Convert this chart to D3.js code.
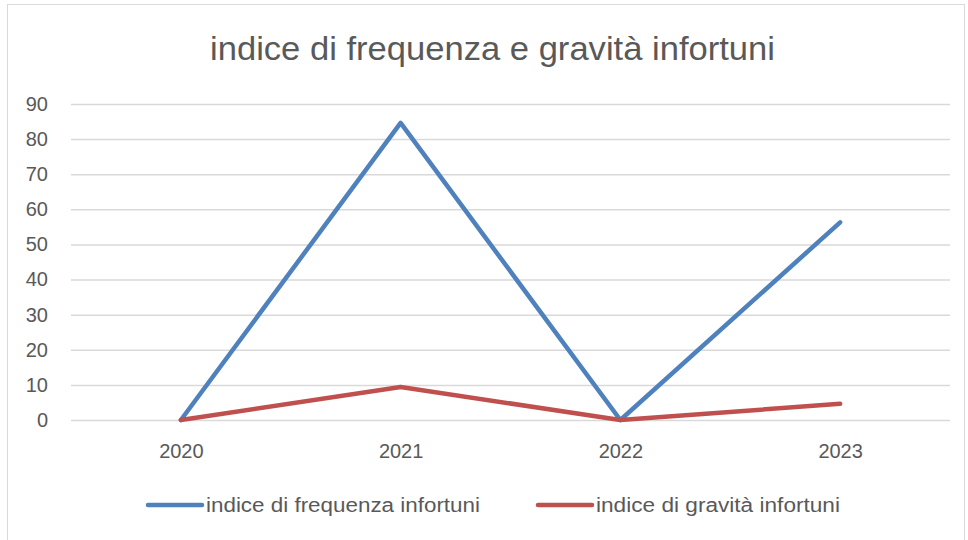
<!DOCTYPE html>
<html>
<head>
<meta charset="utf-8">
<script src="https://cdn.jsdelivr.net/npm/d3@7"></script>
<style>
  body { margin: 0; background: #fff; }
  svg text { font-family: "Liberation Sans", Arial, sans-serif; fill: #595959; }
</style>
</head>
<body>
<div id="chart"></div>
<script>
// data
var years = ['2020', '2021', '2022', '2023'];
var frequenza = [0, 84.6, 0, 56.3];
var gravita = [0, 9.4, 0, 4.6];
var yTicks = [0, 10, 20, 30, 40, 50, 60, 70, 80, 90];
var seriesNames = ['indice di frequenza infortuni', 'indice di gravità infortuni'];
var seriesColors = ['#4f81bd', '#c0504d'];
var title = 'indice di frequenza e gravità infortuni';

var width = 968, height = 540;
var margins = { top: 104, right: 18, bottom: 120, left: 71 };

var svg = d3.select('#chart').append('svg')
  .attr('width', width)
  .attr('height', height);

// chart frame
svg.append('rect')
  .attr('x', 7.5).attr('y', 4.5)
  .attr('width', width - 11).attr('height', height + 10)
  .attr('fill', 'none')
  .attr('stroke', '#d9d9d9');

var x = d3.scalePoint()
  .domain(years)
  .range([margins.left, width - margins.right])
  .padding(0.5);

var y = d3.scaleLinear()
  .domain([0, 90])
  .range([height - margins.bottom, margins.top]);

// title, stretched a bit to match the Calibri width
svg.append('text')
  .attr('x', 210).attr('y', 60)
  .attr('textLength', 565)
  .attr('lengthAdjust', 'spacingAndGlyphs')
  .style('font-size', '33px')
  .text(title);

// y axis + gridlines
var yAxis = svg.append('g')
  .attr('transform', 'translate(' + margins.left + ', 0)')
  .call(d3.axisLeft(y).tickValues(yTicks).tickSize(-(width - margins.left - margins.right)).tickPadding(23));
yAxis.select('.domain').remove();
yAxis.selectAll('.tick line').attr('stroke', '#d9d9d9').attr('stroke-width', 1.5);
yAxis.selectAll('.tick text').style('font-size', '20px').attr('fill', '#595959');

// x axis labels
var xAxis = svg.append('g')
  .attr('transform', 'translate(0, ' + y(0) + ')')
  .call(d3.axisBottom(x).tickSize(0).tickPadding(24));
xAxis.select('.domain').remove();
xAxis.selectAll('.tick text').style('font-size', '20px').attr('fill', '#595959');

var line = d3.line()
  .x(function (d, i) { return x(years[i]); })
  .y(function (d) { return y(d); });

[frequenza, gravita].forEach(function (s, i) {
  svg.append('path')
    .datum(s)
    .attr('d', line)
    .attr('fill', 'none')
    .attr('stroke', seriesColors[i])
    .attr('stroke-width', 4.5)
    .attr('stroke-linejoin', 'round')
    .attr('stroke-linecap', 'round');
});

// legend
var legendX = [148, 538];
var legendLen = [274, 244];
seriesNames.forEach(function (name, i) {
  var g = svg.append('g').attr('transform', 'translate(' + legendX[i] + ', 505)');
  g.append('line')
    .attr('x1', 0).attr('x2', 54)
    .attr('stroke', seriesColors[i])
    .attr('stroke-width', 4.5)
    .attr('stroke-linecap', 'round');
  g.append('text')
    .attr('x', 58).attr('y', 7)
    .attr('textLength', legendLen[i])
    .attr('lengthAdjust', 'spacingAndGlyphs')
    .style('font-size', '20px')
    .text(name);
});
</script>
</body>
</html>
